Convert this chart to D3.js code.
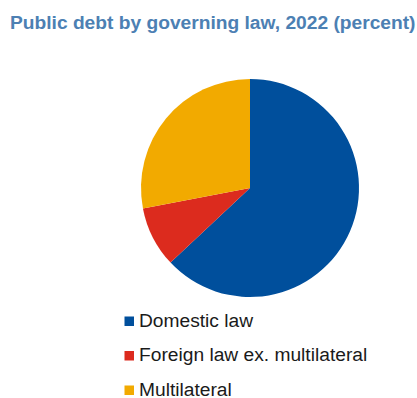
<!DOCTYPE html>
<html><head><meta charset="utf-8">
<script src="https://cdn.jsdelivr.net/npm/d3@7"></script>
<style>body{margin:0;background:#fff;} svg{display:block;}</style>
</head><body>
<svg id="chart" width="417" height="398"></svg>
<script>
const categories = ["Domestic law", "Foreign law ex. multilateral", "Multilateral"];
const values = [63, 9, 28];
const colors = ["#004f9c", "#dc2b1e", "#f2aa00"];
const title = "Public debt by governing law, 2022 (percent)";

const svg = d3.select("#chart");
svg.append("text").attr("x", 10).attr("y", 29)
  .attr("font-family", "'Liberation Sans', Arial, sans-serif")
  .attr("font-weight", "bold").attr("font-size", 19.2)
  .attr("fill", "#4c80b3").text(title);

const cx = 250, cy = 188, r = 109;
const pie = d3.pie().sort(null).value(d => d)(values);
const arc = d3.arc().innerRadius(0).outerRadius(r);
svg.append("g").attr("transform", `translate(${cx},${cy})`)
  .selectAll("path").data(pie).join("path")
  .attr("d", arc).attr("fill", (d, i) => colors[i]);

const lg = svg.append("g");
const rows = lg.selectAll("g").data(categories).join("g")
  .attr("transform", (d, i) => `translate(124.5,${321 + i * 34.5})`);
rows.append("rect").attr("x", 0).attr("y", -4.5).attr("width", 9.5).attr("height", 9.5)
  .attr("fill", (d, i) => colors[i]);
rows.append("text").attr("x", 14.5).attr("y", 5.5)
  .attr("font-family", "'Liberation Sans', Arial, sans-serif")
  .attr("font-size", 19.2).attr("fill", "#1a1a1a").text(d => d);
</script>
</body></html>
